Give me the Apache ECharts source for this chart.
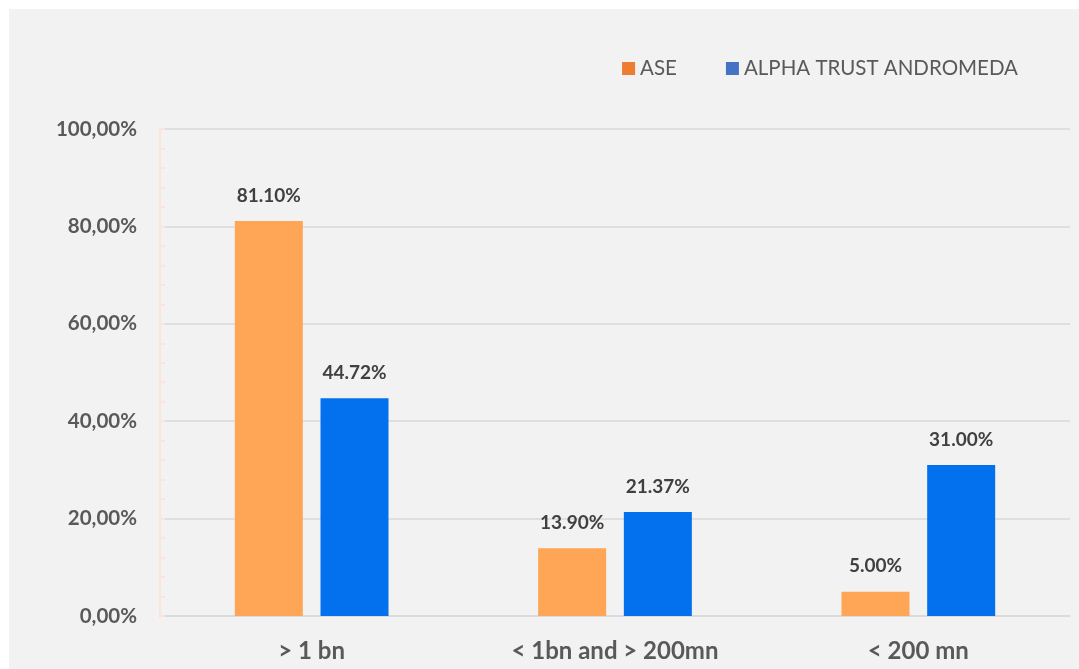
<!DOCTYPE html>
<html>
<head>
<meta charset="utf-8">
<script src="https://cdn.jsdelivr.net/npm/echarts@6/dist/echarts.min.js"></script>
<style>
html,body{margin:0;padding:0;background:#ffffff;}
#bg{position:absolute;left:9px;top:9px;right:0;bottom:0;background:#f2f2f2;}
#chart{position:absolute;left:0;top:0;width:1079px;height:669px;}
</style>
</head>
<body>
<div id="bg"></div>
<div id="chart"></div>
<script>
const categories = ['> 1 bn', '< 1bn and > 200mn', '< 200 mn'];
const seriesNames = ['ASE', 'ALPHA TRUST ANDROMEDA'];
const aseValues = [81.10, 13.90, 5.00];
const alphaValues = [44.72, 21.37, 31.00];
const yTicks = [0, 20, 40, 60, 80, 100];

const FONT = 'Lato, "Open Sans", sans-serif';
const chart = echarts.init(document.getElementById('chart'), null, {renderer: 'canvas'});
const labelCfg = {
  show: true,
  position: 'top',
  distance: 16,
  color: '#404040',
  fontWeight: 'bold',
  fontSize: 19,
  fontFamily: FONT,
  formatter: p => p.value.toFixed(2) + '%'
};
chart.setOption({
  backgroundColor: 'transparent',
  animation: false,
  legend: {
    top: 53,
    right: 56,
    itemWidth: 13,
    itemHeight: 13,
    itemGap: 49,
    icon: 'rect',
    textStyle: {color: '#595959', fontSize: 20.5, fontFamily: FONT},
    data: [
      {name: seriesNames[0], itemStyle: {color: '#ED7D31'}},
      {name: seriesNames[1], itemStyle: {color: '#4472C4'}}
    ]
  },
  grid: {left: 160, right: 9, top: 129, bottom: 53, containLabel: false},
  xAxis: {
    type: 'category',
    data: categories,
    axisLine: {show: true, lineStyle: {color: '#d9d9d9', width: 1.5}},
    axisTick: {show: false},
    axisLabel: {color: '#595959', fontSize: 24, fontWeight: 'bold', fontFamily: FONT, margin: 23}
  },
  yAxis: {
    type: 'value',
    min: yTicks[0],
    max: yTicks[yTicks.length - 1],
    interval: 20,
    axisLine: {show: true, lineStyle: {color: '#fce4d6', width: 2}},
    axisTick: {show: true, inside: true, length: 5, lineStyle: {color: '#fce4d6', width: 2}},
    minorTick: {show: true, splitNumber: 5, length: 5, lineStyle: {color: '#fce4d6', width: 2}},
    splitLine: {show: true, lineStyle: {color: '#d9d9d9', width: 1.5}},
    axisLabel: {
      color: '#595959', fontSize: 20.5, fontWeight: 'bold', fontFamily: FONT, margin: 23,
      formatter: v => v.toFixed(2).replace('.', ',') + '%'
    }
  },
  series: [
    {
      name: seriesNames[0], type: 'bar', data: aseValues,
      barWidth: 68, barGap: '26%',
      itemStyle: {color: '#FFA556'},
      label: labelCfg
    },
    {
      name: seriesNames[1], type: 'bar', data: alphaValues,
      barWidth: 68,
      itemStyle: {color: '#0370EE'},
      label: labelCfg
    }
  ]
});
</script>
</body>
</html>
